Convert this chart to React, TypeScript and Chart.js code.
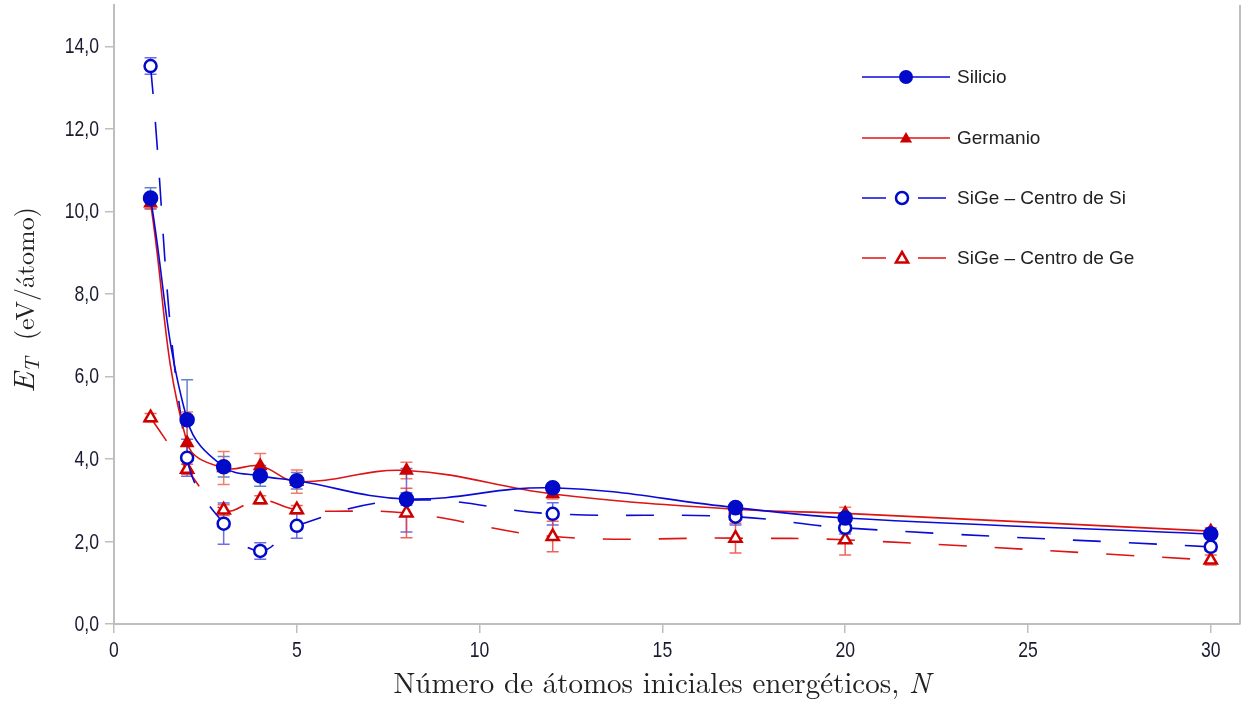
import React, { useEffect, useRef } from "react";
import { Chart, registerables } from "chart.js";

Chart.register(...registerables);

const xValues = [1, 2, 3, 4, 5, 8, 12, 17, 20, 30];
const silicio = [10.32, 4.95, 3.81, 3.59, 3.47, 3.03, 3.3, 2.82, 2.57, 2.18];
const silicioErr = [0.25, 0.97, 0.25, 0.25, 0.2, 0.15, 0.1, 0.1, 0.1, 0.1];
const germanio = [10.2, 4.39, 3.78, 3.83, 3.45, 3.72, 3.15, 2.78, 2.68, 2.25];
const germanioErr = [0.15, 0.75, 0.4, 0.3, 0.28, 0.2, 0.12, 0.1, 0.15, 0.08];
const sigeSi = [13.52, 4.03, 2.43, 1.77, 2.38, 3.0, 2.67, 2.6, 2.33, 1.87];
const sigeSiErr = [0.2, 0.45, 0.5, 0.2, 0.3, 0.77, 0.27, 0.2, 0.15, 0.1];
const sigeGe = [5.0, 3.75, 2.76, 3.01, 2.77, 2.69, 2.12, 2.08, 2.04, 1.55];
const sigeGeErr = [0.1, 0.12, 0.13, 0.1, 0.1, 0.6, 0.37, 0.36, 0.37, 0.12];

const xTickValues = [0, 5, 10, 15, 20, 25, 30];
const yTickValues = [0, 2, 4, 6, 8, 10, 12, 14];
const seriesNames = ["Silicio", "Germanio", "SiGe – Centro de Si", "SiGe – Centro de Ge"];

const BLUE = "rgb(10,10,215)";
const BLUE_MK = "rgb(0,10,200)";
const RED = "rgb(220,20,20)";
const RED_MK = "rgb(205,0,0)";
const DASH = [28, 28];
const SANS = "'Liberation Sans', Arial, sans-serif";
const SERIF = "'Latin Modern Roman', 'Liberation Serif', 'DejaVu Serif', serif";

const errorSets = [
  { values: silicio, errs: silicioErr, color: "rgba(70,110,190,0.85)" },
  { values: germanio, errs: germanioErr, color: "rgba(240,100,80,0.85)" },
  { values: sigeSi, errs: sigeSiErr, color: "rgba(60,60,220,0.75)" },
  { values: sigeGe, errs: sigeGeErr, color: "rgba(235,60,50,0.8)" },
];

const fmtY = (v: number) => v.toFixed(1).replace(".", ",");
const fmtX = (v: number) => String(v);

const errorBarPlugin = {
  id: "errorBars",
  beforeDatasetsDraw(chart: any) {
    const { ctx } = chart;
    const xs = chart.scales.x;
    const ys = chart.scales.y;
    ctx.save();
    ctx.lineWidth = 1.5;
    errorSets.forEach((s) => {
      ctx.strokeStyle = s.color;
      s.values.forEach((v, i) => {
        const px = xs.getPixelForValue(xValues[i]);
        const top = ys.getPixelForValue(v + s.errs[i]);
        const bot = ys.getPixelForValue(v - s.errs[i]);
        ctx.beginPath();
        ctx.moveTo(px, top);
        ctx.lineTo(px, bot);
        ctx.moveTo(px - 6, top);
        ctx.lineTo(px + 6, top);
        ctx.moveTo(px - 6, bot);
        ctx.lineTo(px + 6, bot);
        ctx.stroke();
      });
    });
    ctx.restore();
  },
};

function drawMarker(ctx: CanvasRenderingContext2D, style: string, x: number, y: number, color: string, filled: boolean) {
  ctx.save();
  ctx.beginPath();
  if (style === "circle") {
    ctx.arc(x, y, filled ? 7 : 6, 0, Math.PI * 2);
  } else {
    const r = 7;
    ctx.moveTo(x, y - r);
    ctx.lineTo(x + r * 0.87, y + r * 0.5);
    ctx.lineTo(x - r * 0.87, y + r * 0.5);
    ctx.closePath();
  }
  if (filled) {
    ctx.fillStyle = color;
    ctx.fill();
  } else {
    ctx.fillStyle = "#fff";
    ctx.fill();
    ctx.lineWidth = 2.5;
    ctx.strokeStyle = color;
    ctx.stroke();
  }
  ctx.restore();
}

// condensed tick labels, positioned by the library's scales
function drawCondensed(ctx: CanvasRenderingContext2D, text: string, x: number, y: number, align: string) {
  const sx = 0.8;
  ctx.save();
  ctx.font = `22px ${SANS}`;
  const w = ctx.measureText(text).width * sx;
  let left = x;
  if (align === "center") left = x - w / 2;
  else if (align === "right") left = x - w;
  ctx.translate(left, y);
  ctx.scale(sx, 1);
  ctx.textAlign = "left";
  ctx.textBaseline = "middle";
  ctx.fillStyle = "#1a1a30";
  ctx.fillText(text, 0, 0);
  ctx.restore();
}

const decorPlugin = {
  id: "decor",
  afterDraw(chart: any) {
    const { ctx, chartArea } = chart;
    const xs = chart.scales.x;
    const ys = chart.scales.y;
    ctx.save();
    // right border line
    ctx.strokeStyle = "rgb(190,190,190)";
    ctx.lineWidth = 2;
    ctx.beginPath();
    ctx.moveTo(chartArea.right, chartArea.top);
    ctx.lineTo(chartArea.right, chartArea.bottom);
    ctx.stroke();

    // tick labels
    xTickValues.forEach((v) => {
      drawCondensed(ctx, fmtX(v), xs.getPixelForValue(v), chartArea.bottom + 27, "center");
    });
    yTickValues.forEach((v) => {
      drawCondensed(ctx, fmtY(v), chartArea.left - 15, ys.getPixelForValue(v) + 1, "right");
    });

    // legend
    const items = [
      { name: seriesNames[0], color: BLUE, mk: BLUE_MK, style: "circle", filled: true, dashed: false },
      { name: seriesNames[1], color: RED, mk: RED_MK, style: "triangle", filled: true, dashed: false },
      { name: seriesNames[2], color: BLUE, mk: BLUE_MK, style: "circle", filled: false, dashed: true },
      { name: seriesNames[3], color: RED, mk: RED_MK, style: "triangle", filled: false, dashed: true },
    ];
    const lx0 = 862;
    const rows = [77, 138, 198, 258];
    items.forEach((it, i) => {
      const y = rows[i];
      ctx.strokeStyle = it.color;
      ctx.lineWidth = 1.5;
      ctx.beginPath();
      if (it.dashed) {
        ctx.moveTo(lx0, y);
        ctx.lineTo(lx0 + 24, y);
        ctx.moveTo(lx0 + 56, y);
        ctx.lineTo(lx0 + 84, y);
      } else {
        ctx.moveTo(lx0, y);
        ctx.lineTo(lx0 + 88, y);
      }
      ctx.stroke();
      drawMarker(ctx, it.style, it.dashed ? lx0 + 40 : lx0 + 44, y + (it.style === "triangle" ? 1 : 0), it.mk, it.filled);
      ctx.fillStyle = "#222";
      ctx.font = `19px ${SANS}`;
      ctx.textBaseline = "middle";
      ctx.textAlign = "left";
      ctx.fillText(it.name, lx0 + 95, y + 1);
    });

    // x title
    ctx.fillStyle = "#222";
    ctx.textBaseline = "alphabetic";
    const part1 = "Número de átomos iniciales energéticos, ";
    const part2 = "N";
    ctx.font = `29px ${SERIF}`;
    const w1 = ctx.measureText(part1).width;
    ctx.font = `italic 29px ${SERIF}`;
    const w2 = ctx.measureText(part2).width;
    const sx = 662 - (w1 + w2) / 2;
    ctx.font = `29px ${SERIF}`;
    ctx.textAlign = "left";
    ctx.fillText(part1, sx, 693);
    ctx.font = `italic 29px ${SERIF}`;
    ctx.fillText(part2, sx + w1, 693);

    // y title (rotated)
    ctx.translate(34, 300);
    ctx.rotate(-Math.PI / 2);
    const parts = [
      { t: "E", f: `italic 30px ${SERIF}`, dy: 0 },
      { t: "T", f: `italic 21px ${SERIF}`, dy: 5 },
      { t: "  (eV/átomo)", f: `26px ${SERIF}`, dy: 0 },
    ];
    let total = 0;
    parts.forEach((p) => {
      ctx.font = p.f;
      total += ctx.measureText(p.t).width;
    });
    let cx = -total / 2;
    parts.forEach((p) => {
      ctx.font = p.f;
      ctx.fillText(p.t, cx, p.dy);
      cx += ctx.measureText(p.t).width;
    });
    ctx.restore();
  },
};

const zeroPad = (s: any) => {
  s.paddingTop = 0;
  s.paddingBottom = 0;
  s.paddingLeft = 0;
  s.paddingRight = 0;
};

export default function App() {
  const ref = useRef<HTMLCanvasElement | null>(null);
  useEffect(() => {
    if (!ref.current) return;
    const mk = (vals: number[]) => vals.map((v, i) => ({ x: xValues[i], y: v }));
    const chart = new Chart(ref.current, {
      type: "line",
      data: {
        datasets: [
          {
            label: seriesNames[0],
            data: mk(silicio),
            borderColor: BLUE,
            backgroundColor: BLUE_MK,
            pointBackgroundColor: BLUE_MK,
            pointBorderColor: BLUE_MK,
            pointStyle: "circle",
            pointRadius: 7,
            borderWidth: 1.6,
            tension: 0.4,
          },
          {
            label: seriesNames[1],
            data: mk(germanio),
            borderColor: RED,
            backgroundColor: RED_MK,
            pointBackgroundColor: RED_MK,
            pointBorderColor: RED_MK,
            pointStyle: "triangle",
            pointRadius: 7,
            borderWidth: 1.6,
            tension: 0.4,
          },
          {
            label: seriesNames[2],
            data: mk(sigeSi),
            borderColor: BLUE,
            borderDash: DASH,
            pointBackgroundColor: "#fff",
            pointBorderColor: BLUE_MK,
            pointBorderWidth: 2.5,
            pointStyle: "circle",
            pointRadius: 6,
            borderWidth: 1.6,
            tension: 0.4,
          },
          {
            label: seriesNames[3],
            data: mk(sigeGe),
            borderColor: RED,
            borderDash: DASH,
            pointBackgroundColor: "#fff",
            pointBorderColor: RED_MK,
            pointBorderWidth: 2.5,
            pointStyle: "triangle",
            pointRadius: 7,
            borderWidth: 1.6,
            tension: 0.4,
          },
        ],
      },
      options: {
        animation: false,
        responsive: true,
        maintainAspectRatio: false,
        layout: { autoPadding: false, padding: { top: 5, right: 8, left: 0, bottom: 0 } },
        plugins: { legend: { display: false }, tooltip: { enabled: false } },
        scales: {
          x: {
            type: "linear",
            min: 0,
            max: 30.8,
            afterBuildTicks: (s: any) => {
              s.ticks = xTickValues.map((v) => ({ value: v }));
            },
            afterFit: (s: any) => {
              s.height = 87;
              zeroPad(s);
            },
            grid: {
              display: true,
              drawOnChartArea: false,
              drawTicks: true,
              tickLength: 9,
              color: "rgb(190,190,190)",
              lineWidth: 1.5,
            },
            border: { display: true, color: "rgb(190,190,190)", width: 2 },
            ticks: { display: false, maxRotation: 0 },
          },
          y: {
            type: "linear",
            min: 0,
            max: 15,
            afterBuildTicks: (s: any) => {
              s.ticks = yTickValues.map((v) => ({ value: v }));
            },
            afterFit: (s: any) => {
              s.width = 114;
              zeroPad(s);
            },
            grid: {
              display: true,
              drawOnChartArea: false,
              drawTicks: true,
              tickLength: 9,
              color: "rgb(190,190,190)",
              lineWidth: 1.5,
            },
            border: { display: true, color: "rgb(190,190,190)", width: 2 },
            ticks: { display: false },
          },
        },
      },
      plugins: [errorBarPlugin, decorPlugin],
    } as any);
    return () => chart.destroy();
  }, []);
  return (
    <div style={{ position: "fixed", left: 0, top: 0, width: 1248, height: 711, background: "#fff" }}>
      <canvas ref={ref} />
    </div>
  );
}
